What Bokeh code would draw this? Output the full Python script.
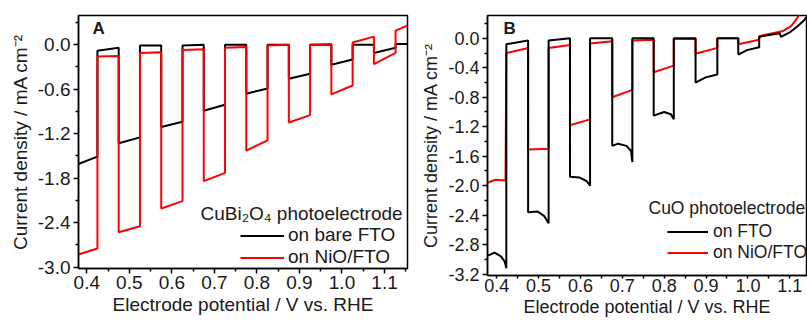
from bokeh.plotting import figure
from bokeh.layouts import row
from bokeh.models import Range1d, FixedTicker, PrintfTickFormatter, Legend, LegendItem, Label
from bokeh.embed import file_html
from bokeh.resources import INLINE

# ---------------- data ----------------
# Panel A: CuBi2O4 photoelectrode, chopped-light LSV
a_bare_x = [0.380, 0.425, 0.425, 0.475, 0.475, 0.525, 0.525, 0.575, 0.575, 0.625, 0.625,
            0.675, 0.675, 0.725, 0.725, 0.775, 0.775, 0.825, 0.825, 0.875, 0.875, 0.925,
            0.925, 0.975, 0.975, 1.025, 1.025, 1.075, 1.075, 1.126, 1.126, 1.155]
a_bare_y = [-1.61, -1.51, -0.08, -0.04, -1.33, -1.25, -0.01, -0.01, -1.11, -1.04, -0.01,
            0.00, -0.89, -0.81, 0.00, 0.00, -0.66, -0.59, 0.00, 0.00, -0.46, -0.39,
            0.00, 0.00, -0.27, -0.20, 0.00, 0.00, -0.11, -0.04, 0.01, 0.01]
a_nio_x = [0.380, 0.425, 0.425, 0.475, 0.475, 0.525, 0.525, 0.575, 0.575, 0.625, 0.625,
           0.675, 0.675, 0.725, 0.725, 0.775, 0.775, 0.825, 0.825, 0.875, 0.875, 0.925,
           0.925, 0.975, 0.975, 1.025, 1.025, 1.075, 1.075, 1.126, 1.126, 1.155]
a_nio_y = [-2.83, -2.75, -0.16, -0.15, -2.53, -2.45, -0.11, -0.10, -2.21, -2.11, -0.07,
           -0.06, -1.84, -1.73, -0.04, -0.03, -1.43, -1.29, -0.01, 0.00, -1.05, -0.95,
           0.00, 0.01, -0.67, -0.55, 0.03, 0.11, -0.26, -0.11, 0.19, 0.26]

# Panel B: CuO photoelectrode, chopped-light LSV
b_fto_x = [0.378, 0.383, 0.395, 0.410, 0.419, 0.423,
           0.423, 0.475,
           0.475, 0.497, 0.513, 0.524,
           0.524, 0.575,
           0.575, 0.598, 0.615, 0.623,
           0.623, 0.676,
           0.676, 0.690, 0.710, 0.721, 0.724,
           0.724, 0.775,
           0.775, 0.800, 0.816, 0.823,
           0.823, 0.875,
           0.875, 0.899, 0.927,
           0.927, 0.977,
           0.977, 0.998, 1.027,
           1.027, 1.076, 1.079, 1.100, 1.120, 1.135, 1.140]
b_fto_y = [-2.95, -2.94, -2.91, -2.96, -3.03, -3.12,
           -0.08, -0.03,
           -2.36, -2.35, -2.41, -2.51,
           -0.03, 0.00,
           -1.88, -1.89, -1.94, -2.00,
           0.00, 0.00,
           -1.46, -1.43, -1.46, -1.53, -1.68,
           0.00, 0.00,
           -1.05, -1.00, -1.03, -1.10,
           0.00, 0.00,
           -0.60, -0.53, -0.49,
           0.00, 0.00,
           -0.22, -0.16, -0.12,
           0.02, 0.07, 0.02, 0.08, 0.17, 0.25, 0.29]
b_nio_x = [0.378, 0.397, 0.421,
           0.423, 0.475,
           0.475, 0.524,
           0.524, 0.575,
           0.575, 0.623,
           0.623, 0.676,
           0.676, 0.724,
           0.724, 0.775,
           0.775, 0.823,
           0.823, 0.875,
           0.875, 0.927,
           0.927, 0.977,
           0.977, 1.027,
           1.027, 1.076,
           1.084, 1.104, 1.116, 1.124]
b_nio_y = [-1.96, -1.92, -1.93,
           -0.20, -0.13,
           -1.51, -1.50,
           -0.13, -0.09,
           -1.18, -1.10,
           -0.07, -0.04,
           -0.80, -0.70,
           -0.03, -0.02,
           -0.46, -0.37,
           -0.01, -0.01,
           -0.21, -0.13,
           0.00, 0.00,
           -0.08, -0.02,
           0.03, 0.09,
           0.10, 0.17, 0.26, 0.34]

# ticks
x_ticks = [0.4, 0.5, 0.6, 0.7, 0.8, 0.9, 1.0, 1.1]
x_minor = [0.45, 0.55, 0.65, 0.75, 0.85, 0.95, 1.05, 1.15]
ya_ticks = [-3.0, -2.4, -1.8, -1.2, -0.6, 0.0]
ya_minor = [-2.7, -2.1, -1.5, -0.9, -0.3, 0.3]
yb_ticks = [-3.2, -2.8, -2.4, -2.0, -1.6, -1.2, -0.8, -0.4, 0.0]
yb_minor = [-3.0, -2.6, -2.2, -1.8, -1.4, -1.0, -0.6, -0.2, 0.2]

x_label = "Electrode potential / V vs. RHE"
y_label = "Current density / mA cm\u207b\u00b2"

FONT = "Liberation Sans"
TXT = "#1a1a1a"
BLACK = "#000000"
RED = "#ff0000"


def make_fig(width, bl, br, bb, xr, yr, yt, ymt, fs, xtick, xstand, xlstand):
    p = figure(width=width, height=320, output_backend="svg", toolbar_location=None,
               x_range=Range1d(*xr), y_range=Range1d(*yr),
               min_border_left=bl, min_border_right=br, min_border_top=15,
               min_border_bottom=bb)
    p.frame_align = False
    p.grid.visible = False
    p.outline_line_color = "black"
    p.outline_line_width = 1.5
    p.outline_line_alpha = 1.0
    for ax, ticks, minors in ((p.xaxis[0], x_ticks, x_minor), (p.yaxis[0], yt, ymt)):
        ax.ticker = FixedTicker(ticks=ticks, minor_ticks=minors)
        ax.formatter = PrintfTickFormatter(format="%.1f")
        ax.axis_line_width = 1.5
        ax.axis_line_color = "black"
        ax.major_tick_in = 0
        ax.major_tick_out = 5
        ax.minor_tick_in = 0
        ax.minor_tick_out = 3
        ax.major_tick_line_width = 1.5
        ax.minor_tick_line_width = 1.5
        ax.major_tick_line_color = "black"
        ax.minor_tick_line_color = "black"
        ax.major_label_text_font = FONT
        ax.major_label_text_font_size = fs
        ax.major_label_text_color = TXT
        ax.axis_label_text_font = FONT
        ax.axis_label_text_font_size = fs
        ax.axis_label_text_font_style = "normal"
        ax.axis_label_text_color = TXT
    p.xaxis[0].axis_label = x_label
    p.yaxis[0].axis_label = y_label
    p.xaxis[0].major_tick_out = xtick
    p.xaxis[0].minor_tick_out = min(xtick, 3)
    p.xaxis[0].major_label_standoff = xstand
    p.xaxis[0].axis_label_standoff = xlstand
    p.yaxis[0].major_label_standoff = 3
    p.yaxis[0].axis_label_standoff = 4
    return p


# ---------------- panel A ----------------
pa = make_fig(418, 78, 11, 52, (0.3805, 1.154), (-3.02, 0.395), ya_ticks, ya_minor,
              "19px", 5, 2, 2)
ra_bare = pa.line(a_bare_x, a_bare_y, line_color=BLACK, line_width=2)
ra_nio = pa.line(a_nio_x, a_nio_y, line_color=RED, line_width=2)
leg_a = Legend(items=[LegendItem(label="on bare FTO", renderers=[ra_bare]),
                      LegendItem(label="on NiO/FTO", renderers=[ra_nio])],
               location=(162, 0), padding=0, margin=0, spacing=0,
               glyph_width=44, glyph_height=21, label_height=21, label_standoff=4,
               border_line_alpha=0, background_fill_alpha=0,
               label_text_font=FONT, label_text_font_size="19px", label_text_color=TXT)
pa.add_layout(leg_a)
pa.add_layout(Label(x=122, y=55, x_units="screen", y_units="screen",
                    text="CuBi\u2082O\u2084 photoelectrode", text_font=FONT,
                    text_font_size="19px", text_color=TXT, text_baseline="middle"))
pa.add_layout(Label(x=14, y=250, x_units="screen", y_units="screen", text="A",
                    text_font=FONT, text_font_style="bold",
                    text_font_size="17px", text_color=TXT, text_baseline="top"))

# ---------------- panel B ----------------
pb = make_fig(389, 67, 1, 45, (0.378, 1.140), (-3.22, 0.31), yb_ticks, yb_minor,
              "18px", 3, 0, 2)
rb_nio = pb.line(b_nio_x, b_nio_y, line_color=RED, line_width=2)
rb_fto = pb.line(b_fto_x, b_fto_y, line_color=BLACK, line_width=2)
leg_b = Legend(items=[LegendItem(label="on FTO", renderers=[rb_fto]),
                      LegendItem(label="on NiO/FTO", renderers=[rb_nio])],
               location=(180, 12), padding=0, margin=0, spacing=0,
               glyph_width=41, glyph_height=21, label_height=21, label_standoff=5,
               border_line_alpha=0, background_fill_alpha=0,
               label_text_font=FONT, label_text_font_size="17.5px", label_text_color=TXT)
pb.add_layout(leg_b)
pb.add_layout(Label(x=161, y=68, x_units="screen", y_units="screen",
                    text="CuO photoelectrode", text_font=FONT,
                    text_font_size="17.5px", text_color=TXT, text_baseline="middle"))
pb.add_layout(Label(x=16, y=257, x_units="screen", y_units="screen", text="B",
                    text_font=FONT, text_font_style="bold",
                    text_font_size="17px", text_color=TXT, text_baseline="top"))

layout = row(pa, pb)
open("out.html", "w").write(file_html(layout, INLINE))
